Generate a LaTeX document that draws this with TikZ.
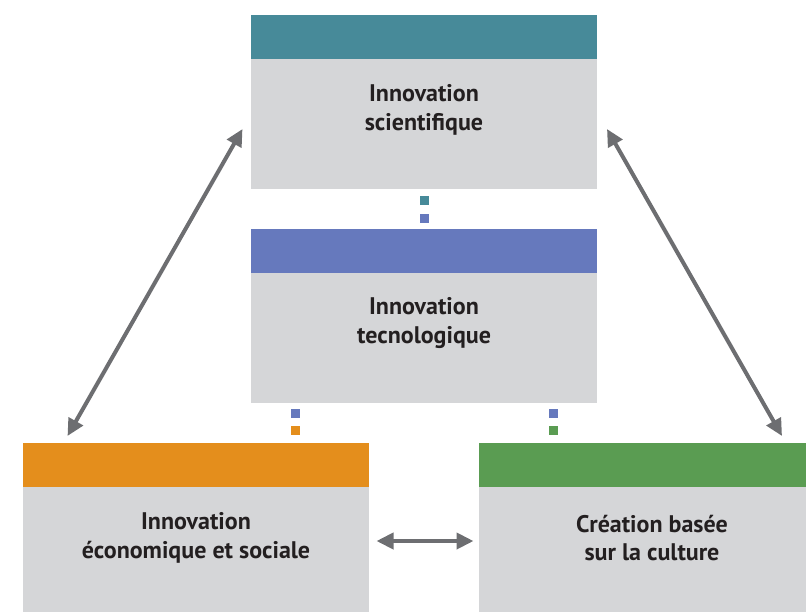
\documentclass[tikz,border=0pt]{standalone}
\usepackage{fontspec}
\setmainfont{PT Sans}
\usetikzlibrary{arrows.meta}
\definecolor{teal}{HTML}{478A99}
\definecolor{blueh}{HTML}{6679BD}
\definecolor{orangeh}{HTML}{E48E1C}
\definecolor{greenh}{HTML}{5A9C52}
\definecolor{bodygray}{HTML}{D5D6D8}
\definecolor{txt}{HTML}{231F20}
\definecolor{arrowgray}{HTML}{6D6E71}
\tikzset{
  header/.style={rectangle, inner sep=0pt, minimum width=346pt, minimum height=44pt, anchor=north west},
  bodybox/.style={rectangle, fill=bodygray, inner sep=0pt, minimum width=346pt, minimum height=130pt, anchor=north west},
  label/.style={font=\bfseries\fontsize{24}{28.5}\selectfont, text=txt, align=center, inner sep=0pt},
  dot/.style={rectangle, inner sep=0pt, minimum size=9pt},
  link/.style={draw=arrowgray, line width=4pt, {Triangle[length=17pt,width=16pt]}-{Triangle[length=17pt,width=16pt]}}
}
\begin{document}
\begin{tikzpicture}[x=1pt,y=-1pt]
\useasboundingbox (0,0) rectangle (806,611);
\clip (0,0) rectangle (806,611);
% top
\node[header, fill=teal] (sciH) at (251,15) {};
\node[bodybox] (sciB) at (251,59) {};
\node[label] (sciT) at (424,110) {Innovation\\scientifique};
% middle
\node[header, fill=blueh] (tecH) at (251,229) {};
\node[bodybox] (tecB) at (251,273) {};
\node[label] (tecT) at (424,323) {Innovation\\tecnologique};
% bottom left
\node[header, fill=orangeh] (ecoH) at (23,443) {};
\node[bodybox] (ecoB) at (23,487) {};
\node[label] (ecoT) at (196,538) {Innovation\\économique et sociale};
% bottom right
\node[header, fill=greenh] (culH) at (479,443) {};
\node[bodybox] (culB) at (479,487) {};
\node[label] (culT) at (652,538) {Création basée\\sur la culture};
% dots
\node[dot, fill=teal] (d1) at (424.5,200.5) {};
\node[dot, fill=blueh] (d2) at (424.5,218.5) {};
\node[dot, fill=blueh] (d3) at (295.5,413.5) {};
\node[dot, fill=orangeh] (d4) at (295.5,430.5) {};
\node[dot, fill=blueh] (d5) at (553.5,413.5) {};
\node[dot, fill=greenh] (d6) at (553.5,430.5) {};
% arrow end points
\coordinate (a1) at (242.5,129);
\coordinate (a2) at (67.5,436);
\coordinate (b1) at (607,129);
\coordinate (b2) at (782,436);
\coordinate (c1) at (376.5,541);
\coordinate (c2) at (473.5,541);
\draw[link] (a1) -- (a2);
\draw[link] (b1) -- (b2);
\draw[link] (c1) -- (c2);
\end{tikzpicture}
\end{document}
